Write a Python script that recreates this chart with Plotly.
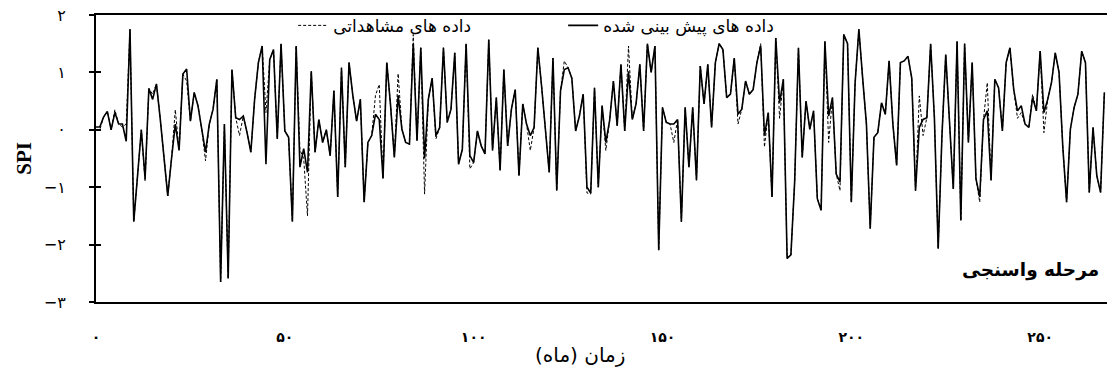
import plotly.graph_objects as go

# month index
months = list(range(0, 268))

# predicted SPI (solid line)
predicted = [
    0.05, 0.05, 0.22, 0.32, 0.0, 0.3, 0.1, 0.1, -0.2, 1.75,
    -1.6, -0.8, 0.0, -0.85, 0.72, 0.53, 0.8, 0.2, -0.45, -1.15,
    -0.5, 0.1, -0.36, 0.97, 1.06, 0.15, 0.65, 0.42, 0.01, -0.39,
    0.1, 0.36, 0.88, -2.65, 0.1, -2.59, 1.05, 0.21, 0.18, 0.24,
    -0.05, -0.39, 0.53, 1.17, 1.46, -0.6, 1.22, 1.4, -0.16, 1.5,
    -0.02, -0.13, -1.6, 1.46, -0.65, -0.33, -0.74, 1.02, -0.39, 0.18,
    -0.22, 0.0, -0.45, 0.68, -1.17, 1.08, -0.65, 1.17, 0.6, 0.15,
    0.53, -1.26, -0.22, -0.1, 0.27, 0.18, -0.85, 1.17, 0.42, -0.48,
    0.6, 0.01, -0.22, -0.25, 1.5, -0.19, 1.43, -0.5, 0.53, 0.9,
    -0.1, 0.04, 1.43, 0.13, 0.36, 1.34, -0.6, -0.34, 1.5, -0.45,
    -0.57, -0.02, -0.28, -0.42, 1.57, -0.36, 0.56, -0.71, 1.05, -0.28,
    0.36, 0.7, -0.8, 0.45, 0.1, -0.1, 0.04, 1.43, 0.75, 0.0,
    -0.74, 1.25, -1.06, 0.68, 1.05, 1.08, 0.9, -0.02, 0.24, 0.62,
    -1.0, -1.1, 0.73, -1.0, 0.42, -0.22, 0.16, 0.85, 0.07, 1.14,
    -0.02, 1.02, 0.18, 0.45, 1.14, -0.02, 1.5, 1.0, 1.46, -2.1,
    0.39, 0.13, 0.1, 0.1, 0.18, -1.6, 0.39, -0.65, 0.39, -0.88,
    1.11, 0.45, 1.14, 0.04, 1.17, 1.5, 1.4, 0.56, 0.62, 1.25,
    0.27, 0.36, 0.85, 0.62, 0.7, 1.17, 1.46, -0.1, 0.3, -1.17,
    1.6, 0.47, 0.88, -2.24, -2.18, -0.9, 1.43, -0.48, 0.5, 0.01,
    0.33, -1.2, -1.4, 1.54, 0.24, 0.56, -0.77, -0.91, 1.66, 1.5,
    -1.26, 0.82, 1.75, 0.9, 0.1, -1.72, -0.13, -0.05, 0.47, 0.27,
    1.2, 0.1, -0.62, 1.17, 1.2, 1.28, 0.9, -1.06, 0.04, 0.18,
    0.21, 1.5, 0.2, -2.07, -0.1, 1.31, 0.18, -1.03, 1.54, -1.58,
    1.5, -0.22, 1.17, -0.85, -1.17, 0.18, 0.33, -0.88, 0.88, 0.73,
    -0.02, 1.17, 1.43, 0.7, 0.33, 0.42, 0.1, 0.04, 0.56, 0.33,
    1.37, 0.3, 0.53, 0.82, 1.34, 1.0, -0.3, -1.26, 0.01, 0.39,
    0.62, 1.37, 1.17, -1.09, 0.04, -0.8, -1.09, 0.65,
]

# observed SPI (dashed line)
observed = [
    0.0, 0.0, 0.22, 0.32, 0.0, 0.35, 0.1, 0.05, 0.1, 1.75,
    -1.6, -0.8, 0.0, -0.9, 0.72, 0.62, 0.8, 0.2, -0.45, -1.15,
    -0.5, 0.35, -0.36, 0.97, 0.85, 0.15, 0.65, 0.42, 0.01, -0.54,
    0.1, 0.36, 0.88, -2.65, 0.1, -2.59, 1.05, 0.21, -0.1, 0.24,
    -0.05, -0.39, 0.53, 1.17, 1.46, 0.3, 1.22, 1.4, -0.16, 1.5,
    -0.02, -0.13, -1.6, 1.46, -0.35, -0.5, -1.5, 1.02, -0.39, 0.18,
    -0.22, 0.0, -0.45, 0.68, -1.17, 1.08, -0.65, 1.17, 0.6, 0.15,
    0.53, -1.26, -0.22, -0.1, 0.6, 0.79, -0.85, 1.17, 0.42, -0.48,
    0.98, 0.01, -0.22, -0.25, 1.66, -0.19, 1.43, -1.12, 0.53, 0.9,
    -0.16, 0.04, 1.43, 0.13, 0.36, 1.34, -0.6, -0.34, 1.5, -0.68,
    -0.57, -0.02, -0.28, -0.42, 1.57, -0.36, 0.56, -0.71, 1.05, -0.28,
    0.36, 0.7, -0.8, 0.45, 0.1, -0.36, 0.04, 1.43, 0.75, 0.0,
    -0.74, 1.25, -1.06, 0.68, 1.2, 1.08, 0.9, -0.02, 0.24, 0.62,
    -1.1, -1.12, 0.73, -1.0, 0.42, -0.36, 0.16, 0.85, 0.07, 1.14,
    -0.02, 1.46, 0.18, 0.45, 1.14, -0.02, 1.5, 1.0, 1.46, -2.1,
    0.39, 0.13, 0.1, -0.22, 0.18, -1.6, 0.39, -0.65, 0.39, -0.88,
    1.11, 0.45, 1.14, 0.04, 1.17, 1.5, 1.4, 0.56, 0.62, 1.25,
    0.1, 0.36, 0.85, 0.62, 0.7, 1.17, 1.5, -0.3, 0.3, -1.17,
    1.6, 0.2, 0.88, -2.24, -2.18, -0.9, 1.43, -0.48, 0.5, 0.01,
    0.33, -1.2, -1.4, 1.54, -0.22, 0.56, -0.77, -1.06, 1.66, 1.5,
    -1.26, 0.82, 1.75, 0.9, 0.1, -1.72, -0.13, -0.05, 0.47, 0.27,
    1.2, 0.1, -0.62, 1.17, 1.2, 1.28, 0.9, -1.06, 0.59, -0.1,
    0.21, 1.5, 0.2, -2.07, -0.1, 1.31, 0.18, -1.03, 1.54, -1.58,
    1.5, -0.22, 1.17, -0.85, -1.26, 0.18, 0.82, -0.88, 0.88, 0.73,
    -0.02, 1.17, 1.43, 0.7, 0.2, 0.3, 0.1, 0.04, 0.62, 0.33,
    1.37, -0.05, 0.53, 0.82, 1.34, 1.0, -0.3, -1.26, 0.01, 0.39,
    0.62, 1.37, 1.17, -1.09, 0.04, -0.8, -1.09, 0.65,
]

x_tickvals = [0, 50, 100, 150, 200, 250]
x_ticktext = ["۰", "۵۰", "۱۰۰", "۱۵۰", "۲۰۰", "۲۵۰"]
y_tickvals = [-3, -2, -1, 0, 1, 2]
y_ticktext = ["−۳", "−۲", "−۱", "۰", "۱", "۲"]

name_obs = "داده های مشاهداتی"
name_pred = "داده های پیش بینی شده"
x_title = "زمان (ماه)"
y_title = "SPI"
stage_label = "مرحله واسنجی"

fa_font = "DejaVu Sans"

fig = go.Figure()
fig.add_trace(go.Scatter(
    x=months, y=observed, mode="lines", name=name_obs,
    line=dict(color="black", width=1, dash="3px,2px"),
))
fig.add_trace(go.Scatter(
    x=months, y=predicted, mode="lines", name=name_pred,
    line=dict(color="black", width=1.6),
))
# helper trace so the overlay axis (inner tick marks) is drawn
fig.add_trace(go.Scatter(
    x=[0], y=[0], yaxis="y2", mode="markers",
    marker=dict(opacity=0), showlegend=False, hoverinfo="skip",
))

fig.update_layout(
    width=1107, height=372,
    margin=dict(l=96, r=0, t=15, b=70, autoexpand=False),
    paper_bgcolor="white", plot_bgcolor="white",
    showlegend=True,
    legend=dict(
        orientation="h", x=0.195, y=1.025, xanchor="left", yanchor="top",
        bgcolor="rgba(0,0,0,0)", font=dict(family=fa_font, size=17, color="black"),
        itemwidth=30, tracegroupgap=0, entrywidth=225,
    ),
    xaxis=dict(
        range=[0, 267.7], tickvals=x_tickvals, ticktext=x_ticktext,
        showgrid=False, zeroline=False, showline=True, mirror=True,
        linecolor="black", linewidth=2, ticks="", automargin=False,
        tickfont=dict(family=fa_font, size=14, color="black", weight="bold"),
        ticklabelstandoff=21,
    ),
    yaxis=dict(
        range=[-3, 2], tickvals=y_tickvals, ticktext=y_ticktext,
        showgrid=False, zeroline=False, showline=True, mirror=False,
        linecolor="black", linewidth=2, ticks="outside", ticklen=5,
        tickwidth=1.5, tickcolor="black", automargin=False,
        tickfont=dict(family=fa_font, size=16, color="black"),
        ticklabelstandoff=20,
    ),
    yaxis2=dict(
        range=[-3, 2], tickvals=y_tickvals, overlaying="y", side="left",
        showgrid=False, zeroline=False, showline=False, showticklabels=False,
        ticks="inside", ticklen=5, tickwidth=1.5, tickcolor="black",
        automargin=False,
    ),
    annotations=[
        dict(text=x_title, xref="paper", yref="paper", x=0.479, y=-0.185,
             xanchor="center", yanchor="middle", showarrow=False,
             font=dict(family=fa_font, size=20, color="black")),
        dict(text="<b>" + y_title + "</b>", xref="paper", yref="paper",
             x=-0.072, y=0.50, xanchor="center", yanchor="middle",
             textangle=-90, showarrow=False,
             font=dict(family="Liberation Serif", size=21, color="black")),
        dict(text="<b>" + stage_label + "</b>", xref="paper", yref="paper",
             x=0.924, y=0.11, xanchor="center", yanchor="middle",
             showarrow=False,
             font=dict(family=fa_font, size=18.5, color="black")),
    ],
)

fig.write_html(
    "out.html",
    config={"displayModeBar": False},
    post_script="document.body.style.margin='0';",
)
